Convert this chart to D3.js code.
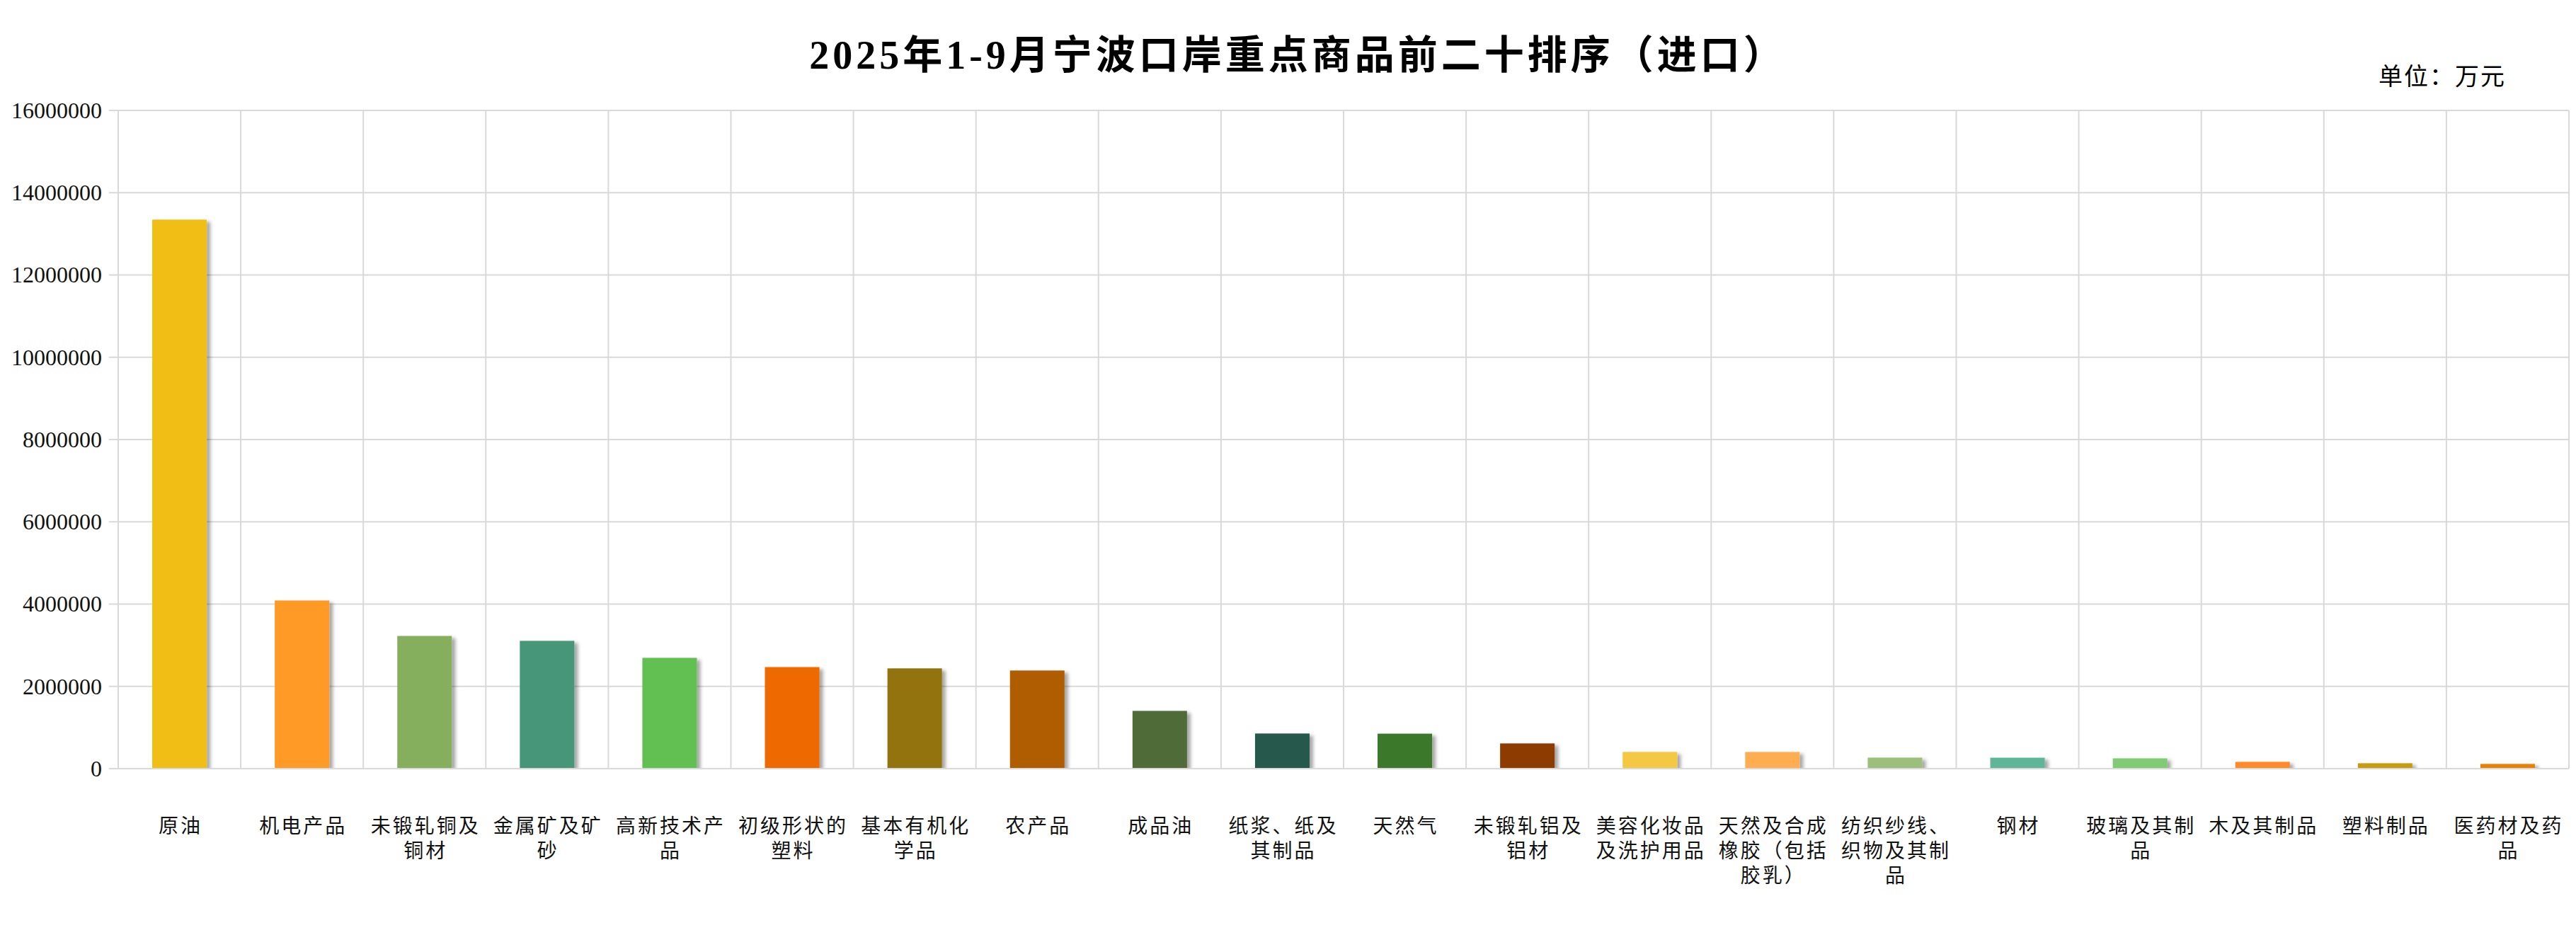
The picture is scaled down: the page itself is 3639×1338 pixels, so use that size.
<!DOCTYPE html>
<html>
<head>
<meta charset="utf-8">
<script src="https://cdn.jsdelivr.net/npm/d3@7"></script>
<style>
    html, body { margin: 0; padding: 0; background: #fff; }
    svg { display: block; }
</style>
</head>
<body>
<div id="chart"></div>
<script>
// 宁波口岸重点商品进口排序 柱状图

// 数据
const titleText = '2025年1-9月宁波口岸重点商品前二十排序（进口）';
const unitText = '单位：万元';
const categories = ['原油', '机电产品', '未锻轧铜及铜材', '金属矿及矿砂', '高新技术产品', '初级形状的塑料',
    '基本有机化学品', '农产品', '成品油', '纸浆、纸及其制品', '天然气', '未锻轧铝及铝材',
    '美容化妆品及洗护用品', '天然及合成橡胶（包括胶乳）', '纺织纱线、织物及其制品', '钢材',
    '玻璃及其制品', '木及其制品', '塑料制品', '医药材及药品'];
const values = [13345000, 4087000, 3225000, 3106000, 2693000, 2468000,
    2437000, 2385000, 1404000, 854000, 850000, 613000,
    406000, 405000, 268000, 266000,
    251000, 165000, 131000, 114000];
const barColors = ['#F1BE15', '#FF9A25', '#86AF5D', '#46967A', '#62C052', '#EE6A03',
    '#937309', '#AF5D01', '#4F6C37', '#27594C', '#3A782C', '#8E3B00',
    '#F4C842', '#FFAD51', '#9DBF7C', '#5FB598', '#82CB74', '#FF8A2A', '#C89A0C', '#EB7F03'];
const yTicks = [0, 2000000, 4000000, 6000000, 8000000, 10000000, 12000000, 14000000, 16000000];

const width = 3639;
const height = 1338;
const margin = {top: 156, right: 10, bottom: 252, left: 167};

const gridColor = '#d9d9d9';
const cjkFont = '"Noto Sans CJK SC", sans-serif';
const numFont = '"Liberation Serif", "Noto Sans CJK SC", serif';

// 每行最多5个字
function splitLabel(s) {
    const lines = [];
    for (let i = 0; i < s.length; i += 5) {
        lines.push(s.slice(i, i + 5));
    }
    return lines;
}

function drawChart() {
    const svg = d3.select('#chart').append('svg')
        .attr('width', width)
        .attr('height', height);

    const x = d3.scaleBand()
        .domain(categories)
        .range([margin.left, width - margin.right])
        .padding(0);

    const y = d3.scaleLinear()
        .domain([0, 16000000])
        .range([height - margin.bottom, margin.top]);

    // 阴影
    const defs = svg.append('defs');
    const filter = defs.append('filter')
        .attr('id', 'barShadow')
        .attr('x', '-20%').attr('y', '-20%')
        .attr('width', '160%').attr('height', '140%');
    filter.append('feDropShadow')
        .attr('dx', 5).attr('dy', 3)
        .attr('stdDeviation', 2.5)
        .attr('flood-color', '#000')
        .attr('flood-opacity', 0.35);
    defs.append('clipPath').attr('id', 'plotClip')
        .append('rect')
        .attr('x', margin.left)
        .attr('y', 0)
        .attr('width', width - margin.left - margin.right)
        .attr('height', y(0) - 1);

    // 横向网格
    svg.append('g')
        .selectAll('line')
        .data(yTicks)
        .enter()
        .append('line')
        .attr('x1', margin.left - 13)
        .attr('x2', width - margin.right)
        .attr('y1', d => y(d))
        .attr('y2', d => y(d))
        .attr('stroke', gridColor)
        .attr('stroke-width', 2);

    // 纵向网格
    const bounds = categories.map(c => x(c)).concat([width - margin.right]);
    svg.append('g')
        .selectAll('line')
        .data(bounds)
        .enter()
        .append('line')
        .attr('x1', d => d)
        .attr('x2', d => d)
        .attr('y1', y(16000000))
        .attr('y2', y(0))
        .attr('stroke', gridColor)
        .attr('stroke-width', 2);

    // Y轴刻度
    const yAxis = d3.axisLeft(y)
        .tickValues(yTicks)
        .tickSize(0)
        .tickPadding(23)
        .tickFormat(d3.format('d'));
    const yg = svg.append('g')
        .attr('transform', `translate(${margin.left},0)`)
        .call(yAxis);
    yg.select('.domain').remove();
    yg.selectAll('text')
        .attr('font-family', numFont)
        .attr('font-size', 32)
        .attr('fill', '#111');

    // 柱子
    const barW = x.bandwidth() * 0.445;
    svg.append('g')
        .attr('clip-path', 'url(#plotClip)')
        .selectAll('rect')
        .data(values)
        .enter()
        .append('rect')
        .attr('x', (d, i) => x(categories[i]) + (x.bandwidth() - barW) / 2)
        .attr('y', d => y(d))
        .attr('width', barW)
        .attr('height', d => y(0) - y(d))
        .attr('fill', (d, i) => barColors[i])
        .attr('filter', 'url(#barShadow)');

    // X轴标签
    const labels = svg.append('g')
        .selectAll('text')
        .data(categories)
        .enter()
        .append('text')
        .attr('font-family', cjkFont)
        .attr('font-size', 28)
        .attr('letter-spacing', 3)
        .attr('fill', '#111')
        .attr('text-anchor', 'middle');
    labels.each(function(d) {
        const cx = x(d) + x.bandwidth() / 2 + 1.5;
        splitLabel(d).forEach((line, k) => {
            d3.select(this).append('tspan')
                .attr('x', cx)
                .attr('y', 1177 + k * 35)
                .text(line);
        });
    });

    // 标题
    svg.append('text')
        .attr('x', width / 2 + 14)
        .attr('y', 97)
        .attr('text-anchor', 'middle')
        .attr('font-family', numFont)
        .attr('font-size', 56)
        .attr('font-weight', 'bold')
        .attr('letter-spacing', 5)
        .attr('fill', '#000')
        .text(titleText);

    // 单位
    svg.append('text')
        .attr('x', 3540)
        .attr('y', 120)
        .attr('text-anchor', 'end')
        .attr('font-family', cjkFont)
        .attr('font-size', 34)
        .attr('letter-spacing', 2)
        .attr('fill', '#000')
        .text(unitText);
}

document.addEventListener('DOMContentLoaded', function() {
    drawChart();
});
</script>
</body>
</html>
